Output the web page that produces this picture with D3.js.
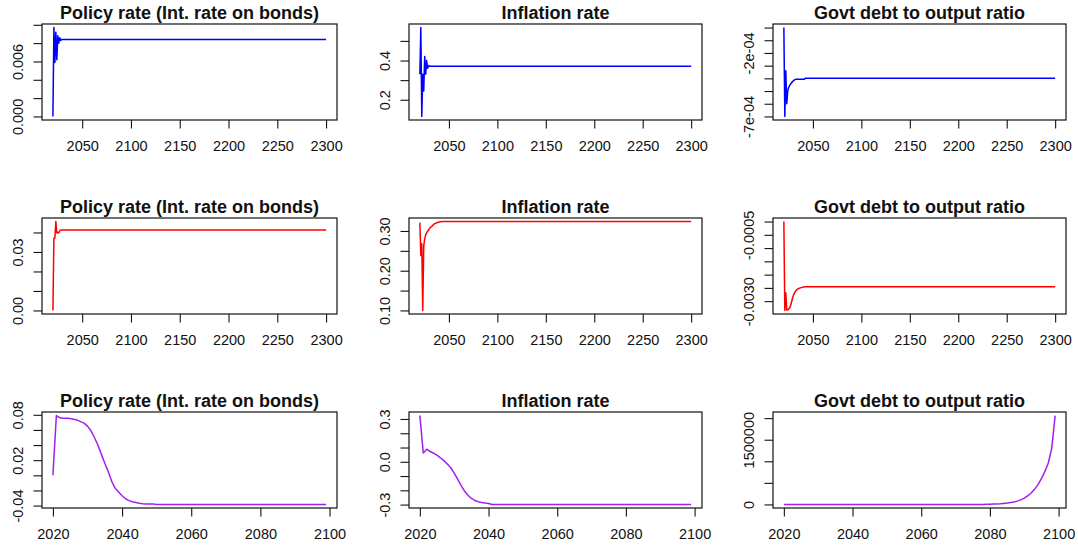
<!DOCTYPE html>
<html>
<head>
<meta charset="utf-8">
<script src="https://cdn.jsdelivr.net/npm/d3@7"></script>
<style>
  html, body { margin: 0; padding: 0; background: #ffffff; }
  svg { display: block; }
</style>
</head>
<body>
<svg id="chart" width="1078" height="545"></svg>
<script>
// ---- Panel titles (same three variables in every row) ----
const titles = ["Policy rate (Int. rate on bonds)", "Inflation rate", "Govt debt to output ratio"];
const rowColors = ["#0000FF", "#FF0000", "#A020F0"];

// ---- Row 1 (blue) ----
const years1Policy = [2020, 2021, 2022, 2023, 2024, 2025, 2026, 2027, 2028, 2029, 2300];
const policy1 = [0.0000, 0.0097, 0.0059, 0.0092, 0.0062, 0.0088, 0.0080, 0.0086, 0.0083, 0.0084, 0.0084];

const years1Infl = [2020, 2021, 2022, 2023, 2024, 2025, 2026, 2027, 2028, 2029, 2030, 2300];
const inflation1 = [0.330, 0.568, 0.115, 0.330, 0.245, 0.420, 0.330, 0.400, 0.360, 0.375, 0.371, 0.371];

const years1Debt = [2020, 2021, 2022, 2023, 2024, 2025, 2026, 2027, 2028, 2029, 2030, 2031, 2032, 2041, 2042, 2300];
const debt1 = [0, -7.0e-4, -3.4e-4, -6.0e-4, -5.0e-4, -4.7e-4, -4.55e-4, -4.45e-4, -4.35e-4, -4.25e-4,
               -4.18e-4, -4.12e-4, -4.08e-4, -4.08e-4, -4.0e-4, -4.0e-4];

// ---- Row 2 (red) ----
const years2Policy = [2020, 2021, 2022, 2023, 2024, 2025, 2026, 2027, 2028, 2300];
const policy2 = [0.0000, 0.0370, 0.0372, 0.0456, 0.0397, 0.0401, 0.0398, 0.0409, 0.0413, 0.0413];

const years2Infl = [2020, 2021, 2022, 2023, 2024, 2025, 2026, 2027, 2028, 2029, 2030, 2031,
                    2032, 2033, 2034, 2035, 2036, 2037, 2038, 2039, 2040, 2041, 2042, 2043, 2300];
const inflation2 = [0.321, 0.238, 0.268, 0.100, 0.262, 0.280, 0.290, 0.295, 0.299, 0.303, 0.306, 0.309,
                    0.311, 0.313, 0.316, 0.318, 0.319, 0.320, 0.321, 0.322, 0.3225, 0.323, 0.3233, 0.3237, 0.3237];

const years2Debt = [2020, 2021, 2022, 2023, 2024, 2025, 2026, 2027, 2028, 2029, 2030, 2031,
                    2032, 2033, 2034, 2035, 2036, 2037, 2038, 2039, 2040, 2041, 2042, 2300];
const debt2 = [0, -0.00335, -0.00268, -0.00333, -0.00333, -0.00330, -0.00325, -0.00316, -0.00302, -0.00288,
               -0.00277, -0.00269, -0.00263, -0.00258, -0.00255, -0.00253, -0.00251, -0.00250, -0.00249,
               -0.00248, -0.00247, -0.00247, -0.00246, -0.00246];

// ---- Row 3 (purple) ----
const years3Policy = [2020, 2021, 2022, 2023, 2024, 2025, 2026, 2027, 2028, 2029, 2030, 2031, 2032, 2033,
                      2034, 2035, 2036, 2037, 2038, 2039, 2040, 2041, 2042, 2043, 2044, 2045, 2046, 2047,
                      2048, 2049, 2050, 2099];
const policy3 = [0.000, 0.079, 0.076, 0.0755, 0.0755, 0.075, 0.074, 0.073, 0.071, 0.069, 0.065, 0.059, 0.050,
                 0.040, 0.028, 0.016, 0.005, -0.008, -0.017, -0.022, -0.027, -0.031, -0.0335, -0.035, -0.036,
                 -0.037, -0.0375, -0.0378, -0.038, -0.038, -0.0385, -0.0385];

const years3Infl = [2020, 2021, 2022, 2023, 2024, 2025, 2026, 2027, 2028, 2029, 2030, 2031, 2032, 2033,
                    2034, 2035, 2036, 2037, 2038, 2039, 2040, 2041, 2099];
const inflation3 = [0.324, 0.062, 0.088, 0.072, 0.060, 0.046, 0.028, 0.008, -0.016, -0.042, -0.080, -0.122,
                    -0.165, -0.205, -0.235, -0.257, -0.271, -0.280, -0.285, -0.289, -0.292, -0.299, -0.299];

const years3Debt = [2020, 2078, 2079, 2080, 2081, 2082, 2083, 2084, 2085, 2086, 2087, 2088, 2089, 2090,
                    2091, 2092, 2093, 2094, 2095, 2096, 2097, 2098, 2099];
const debt3 = [0, 0, 2000, 4000, 8000, 12000, 17000, 24000, 32000, 43000, 58000, 77000, 105000, 145000,
               200000, 265000, 350000, 460000, 600000, 760000, 960000, 1300000, 2060000];

// ---- Axis ticks and the labels printed beside them ("" = tick only) ----
const xTicksLong = [2050, 2100, 2150, 2200, 2250, 2300];
const xTicksShort = [2020, 2040, 2060, 2080, 2100];

const yTicksPolicy1 = [0, 0.002, 0.004, 0.006, 0.008, 0.010];
const yLabelsPolicy1 = ["0.000", "", "", "0.006", "", ""];
const yTicksInfl1 = [0.2, 0.3, 0.4, 0.5];
const yLabelsInfl1 = ["0.2", "", "0.4", ""];
const yTicksDebt1 = [-7e-4, -6e-4, -5e-4, -4e-4, -3e-4, -2e-4, -1e-4, 0];
const yLabelsDebt1 = ["-7e-04", "", "", "", "", "-2e-04", "", ""];

const yTicksPolicy2 = [0, 0.01, 0.02, 0.03, 0.04];
const yLabelsPolicy2 = ["0.00", "", "", "0.03", ""];
const yTicksInfl2 = [0.10, 0.15, 0.20, 0.25, 0.30];
const yLabelsInfl2 = ["0.10", "", "0.20", "", "0.30"];
const yTicksDebt2 = [-0.0030, -0.0025, -0.0020, -0.0015, -0.0010, -0.0005, 0];
const yLabelsDebt2 = ["-0.0030", "", "", "", "", "-0.0005", ""];

const yTicksPolicy3 = [-0.04, -0.02, 0, 0.02, 0.04, 0.06, 0.08];
const yLabelsPolicy3 = ["-0.04", "", "", "0.02", "", "", "0.08"];
const yTicksInfl3 = [-0.3, -0.2, -0.1, 0, 0.1, 0.2, 0.3];
const yLabelsInfl3 = ["-0.3", "", "", "0.0", "", "", "0.3"];
const yTicksDebt3 = [0, 500000, 1000000, 1500000, 2000000];
const yLabelsDebt3 = ["0", "", "", "1500000", ""];

// ---- Grid geometry (plot boxes) ----
const colLeft = [42, 409, 773], colRight = [337, 702, 1066];
const rowTop = [24, 218, 412], rowBottom = [120, 314, 508];

const panels = [
  { row: 0, col: 0, years: years1Policy, values: policy1, yt: yTicksPolicy1, yl: yLabelsPolicy1, xt: xTicksLong },
  { row: 0, col: 1, years: years1Infl, values: inflation1, yt: yTicksInfl1, yl: yLabelsInfl1, xt: xTicksLong },
  { row: 0, col: 2, years: years1Debt, values: debt1, yt: yTicksDebt1, yl: yLabelsDebt1, xt: xTicksLong },
  { row: 1, col: 0, years: years2Policy, values: policy2, yt: yTicksPolicy2, yl: yLabelsPolicy2, xt: xTicksLong },
  { row: 1, col: 1, years: years2Infl, values: inflation2, yt: yTicksInfl2, yl: yLabelsInfl2, xt: xTicksLong },
  { row: 1, col: 2, years: years2Debt, values: debt2, yt: yTicksDebt2, yl: yLabelsDebt2, xt: xTicksLong },
  { row: 2, col: 0, years: years3Policy, values: policy3, yt: yTicksPolicy3, yl: yLabelsPolicy3, xt: xTicksShort },
  { row: 2, col: 1, years: years3Infl, values: inflation3, yt: yTicksInfl3, yl: yLabelsInfl3, xt: xTicksShort },
  { row: 2, col: 2, years: years3Debt, values: debt3, yt: yTicksDebt3, yl: yLabelsDebt3, xt: xTicksShort }
];

// Base-graphics style range: data extent widened by 4% on each side
function padExtent(arr) {
  const [a, b] = d3.extent(arr);
  const d = (b - a) * 0.04;
  return [a - d, b + d];
}

const FONT = "'Liberation Sans', Arial, Helvetica, sans-serif";
const svg = d3.select("#chart");
svg.append("rect").attr("width", 1078).attr("height", 545).attr("fill", "#ffffff");

panels.forEach(p => {
  const L = colLeft[p.col], T = rowTop[p.row];
  const W = colRight[p.col] - L, H = rowBottom[p.row] - T;
  const g = svg.append("g").attr("transform", `translate(${L},${T})`);

  const x = d3.scaleLinear().domain(padExtent(p.years)).range([0, W]);
  const y = d3.scaleLinear().domain(padExtent(p.values)).range([H, 0]);

  const pts = p.years.map((yr, i) => [yr, p.values[i]]);
  g.append("path")
    .datum(pts)
    .attr("fill", "none")
    .attr("stroke", rowColors[p.row])
    .attr("stroke-width", 1.5)
    .attr("stroke-linejoin", "round")
    .attr("d", d3.line().x(d => x(d[0])).y(d => y(d[1])));

  // bottom axis
  const xa = g.append("g")
    .attr("transform", `translate(0,${H})`)
    .call(d3.axisBottom(x).tickValues(p.xt).tickFormat(d3.format("d")).tickSize(8.5).tickPadding(12.7));
  xa.select(".domain").remove();
  xa.attr("font-size", null).attr("font-family", null);
  xa.selectAll("line").attr("stroke", "#111").attr("stroke-width", 1.1);
  xa.selectAll("text").attr("fill", "#111").style("font-family", FONT).style("font-size", "14.5px");

  // left axis, labels rotated to read upward
  const ya = g.append("g")
    .call(d3.axisLeft(y).tickValues(p.yt).tickFormat((d, i) => p.yl[i]).tickSize(8.5));
  ya.select(".domain").remove();
  ya.attr("font-size", null).attr("font-family", null);
  ya.selectAll("line").attr("stroke", "#111").attr("stroke-width", 1.1);
  ya.selectAll("text")
    .attr("x", 0).attr("dy", 0)
    .attr("text-anchor", "middle")
    .attr("transform", "translate(-19,0) rotate(-90)")
    .attr("fill", "#111")
    .style("font-family", FONT).style("font-size", "14.5px");

  // plot frame
  g.append("rect")
    .attr("x", 0).attr("y", 0).attr("width", W).attr("height", H)
    .attr("fill", "none").attr("stroke", "#111").attr("stroke-width", 1.2);

  // panel title
  g.append("text")
    .attr("x", W / 2).attr("y", -5)
    .attr("text-anchor", "middle")
    .style("font-family", FONT).style("font-size", "18px").style("font-weight", "bold")
    .attr("fill", "#111")
    .text(titles[p.col]);
});
</script>
</body>
</html>
